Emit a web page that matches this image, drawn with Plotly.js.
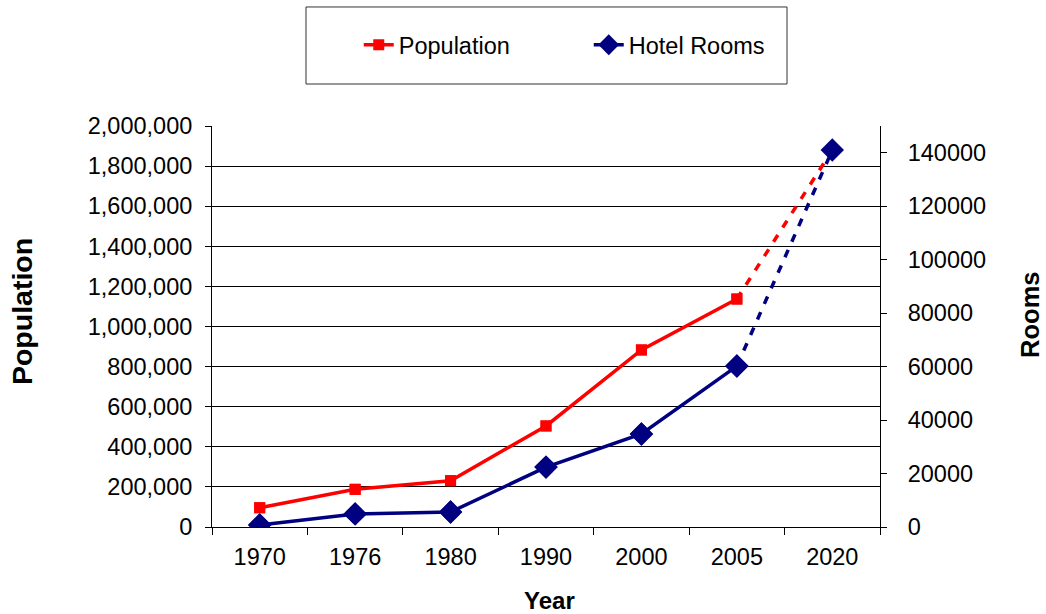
<!DOCTYPE html>
<html>
<head>
<meta charset="utf-8">
<script src="https://cdn.plot.ly/plotly-3.0.1.min.js"></script>
<style>html,body{margin:0;padding:0;background:#fff;}#chart{width:1046px;height:614px;}</style>
</head>
<body>
<div id="chart"></div>
<script>
const years = ['1970', '1976', '1980', '1990', '2000', '2005', '2020'];
const population = [96000, 188000, 231000, 504000, 883000, 1137000, 1880000];
const hotelRooms = [750, 4900, 5600, 22400, 34800, 60200, 141000];
const popTicks = [0, 200000, 400000, 600000, 800000, 1000000, 1200000, 1400000, 1600000, 1800000, 2000000];
const popTickText = ['0', '200,000', '400,000', '600,000', '800,000', '1,000,000', '1,200,000', '1,400,000', '1,600,000', '1,800,000', '2,000,000'];
const roomTicks = [0, 20000, 40000, 60000, 80000, 100000, 120000, 140000];
const roomTickText = ['0', '20000', '40000', '60000', '80000', '100000', '120000', '140000'];

const FONT = 'Liberation Sans, Arial, sans-serif';
const RED = '#FF0000', NAVY = '#000080';
const TICK = 23.5;
const nSolid = 6; // 1970..2005 solid, 2005..2020 dashed

const traces = [
  { x: years, y: population.map(() => null), yaxis: 'y3', type: 'scatter', mode: 'lines', showlegend: false, hoverinfo: 'skip' },
  { x: years.slice(nSolid - 1), y: population.slice(nSolid - 1), type: 'scatter', mode: 'lines',
    line: { color: RED, width: 3.5, dash: '8px,9px' }, yaxis: 'y', showlegend: false, hoverinfo: 'skip' },
  { x: years, y: population, type: 'scatter', mode: 'markers', yaxis: 'y', showlegend: false,
    marker: { symbol: 'square', size: 11, color: RED } },
  { x: years.slice(0, nSolid), y: population.slice(0, nSolid), type: 'scatter', mode: 'lines+markers', name: 'Population',
    line: { color: RED, width: 3.5 }, marker: { symbol: 'square', size: 11, color: RED }, yaxis: 'y' },
  { x: years.slice(nSolid - 1), y: hotelRooms.slice(nSolid - 1), type: 'scatter', mode: 'lines',
    line: { color: NAVY, width: 3.5, dash: '8px,9px' }, yaxis: 'y2', showlegend: false, hoverinfo: 'skip' },
  { x: years, y: hotelRooms, type: 'scatter', mode: 'markers', yaxis: 'y2', showlegend: false,
    marker: { symbol: 'diamond', size: 18, color: NAVY } },
  { x: years.slice(0, nSolid), y: hotelRooms.slice(0, nSolid), type: 'scatter', mode: 'lines+markers', name: 'Hotel Rooms',
    line: { color: NAVY, width: 3.5 }, marker: { symbol: 'diamond', size: 18, color: NAVY }, yaxis: 'y2' }
];

const layout = {
  width: 1046, height: 614,
  margin: { l: 212, r: 166, t: 126, b: 87 },
  paper_bgcolor: '#fff', plot_bgcolor: '#fff',
  font: { family: FONT, size: TICK, color: '#000' },
  showlegend: true,
  legend: { orientation: 'h', x: 0.564, xanchor: 'center', y: 1.202, yanchor: 'middle',
    bgcolor: 'rgba(0,0,0,0)', borderwidth: 0, font: { family: FONT, size: TICK, color: '#000' },
    entrywidth: 185, entrywidthmode: 'pixels', traceorder: 'normal' },
  xaxis: {
    type: 'category', categoryorder: 'array', categoryarray: years,
    range: [-0.5, years.length - 0.5], tickson: 'boundaries',
    ticks: 'outside', ticklen: 7, tickcolor: '#000', tickwidth: 1,
    showline: true, linecolor: '#000', linewidth: 1, showgrid: false, zeroline: false,
    ticklabelstandoff: 9, tickfont: { family: FONT, size: TICK, color: '#000' }
  },
  yaxis: {
    range: [0, 2000000], tickvals: popTicks, ticktext: popTickText,
    ticks: 'outside', ticklen: 6, tickcolor: '#000', showline: true, linecolor: '#000', linewidth: 1,
    showgrid: false, zeroline: false, ticklabelstandoff: 8,
    tickfont: { family: FONT, size: TICK, color: '#000' }
  },
  yaxis3: {
    overlaying: 'y', range: [0, 2000000], tickvals: popTicks.slice(0, -1),
    showticklabels: false, ticks: '', showgrid: true, gridcolor: '#000', gridwidth: 1,
    zeroline: false, showline: false
  },
  yaxis2: {
    overlaying: 'y', side: 'right', range: [0, 150000], tickvals: roomTicks, ticktext: roomTickText,
    ticks: 'outside', ticklen: 6, tickcolor: '#000', showline: true, linecolor: '#000', linewidth: 1,
    showgrid: false, zeroline: false, ticklabelstandoff: 16,
    tickfont: { family: FONT, size: TICK, color: '#000' }
  },
  shapes: [
    { type: 'rect', xref: 'paper', yref: 'paper', x0: 0.1407, x1: 0.8608, y0: 1.1047, y1: 1.2968,
      line: { color: '#333', width: 1 }, fillcolor: 'rgba(0,0,0,0)' }
  ],
  annotations: [
    { text: '<b>Population</b>', xref: 'paper', yref: 'paper', x: -0.2844, y: 0.536, xanchor: 'center', yanchor: 'middle',
      textangle: -90, showarrow: false, borderpad: 0, font: { family: FONT, size: 28.5, color: '#000' } },
    { text: '<b>Rooms</b>', xref: 'paper', yref: 'paper', x: 1.2246, y: 0.529, xanchor: 'center', yanchor: 'middle',
      textangle: -90, showarrow: false, borderpad: 0, font: { family: FONT, size: 25.5, color: '#000' } },
    { text: '<b>Year</b>', xref: 'paper', yref: 'paper', x: 0.5045, y: -0.1845, xanchor: 'center', yanchor: 'middle',
      showarrow: false, font: { family: FONT, size: 24, color: '#000' } }
  ]
};

Plotly.newPlot('chart', traces, layout, { displayModeBar: false, staticPlot: true });
</script>
</body>
</html>
